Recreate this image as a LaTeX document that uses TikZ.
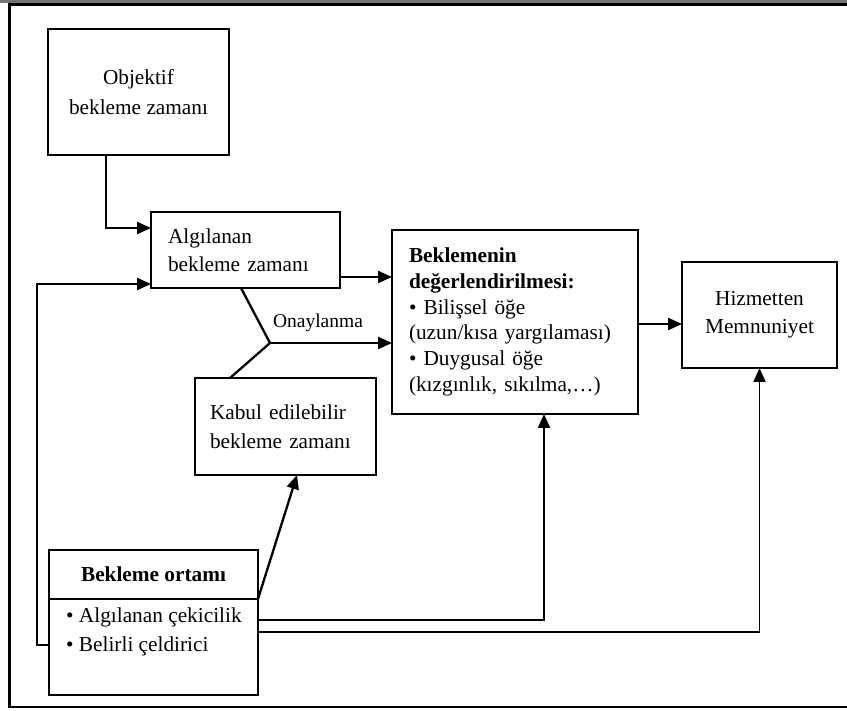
\documentclass[tikz,border=0pt]{standalone}
\usepackage{fontspec}
\setmainfont{Liberation Serif}
\usetikzlibrary{arrows.meta}
\tikzset{
  box/.style={draw=black, line width=2.3pt, rectangle, inner sep=0pt, outer sep=0pt,
    font=\fontsize{21.3pt}{28pt}\selectfont},
  arr/.style={line width=2.3pt, -{Triangle[length=14pt,width=12pt]}},
  thinarr/.style={line width=1.9pt, -{Triangle[length=14pt,width=12pt]}},
  conn/.style={line width=2.3pt},
  lbl/.style={inner sep=0pt, font=\fontsize{19.5pt}{24pt}\selectfont}
}
\begin{document}
\begin{tikzpicture}[x=1pt,y=-1pt]
\useasboundingbox (0,0) rectangle (847,711);
% frame
\fill[black!55] (0,0) rectangle (847,3.5);
\draw[line width=2.3pt] (850,4.5) -- (9.5,4.5) -- (9.5,707) -- (850,707);
% boxes
\node[box, minimum width=181pt, minimum height=126pt, align=center,
  font=\fontsize{21.3pt}{30pt}\selectfont] (obj) at (138.5,92)
  {Objektif\\bekleme zamanı};
\node[box, minimum height=76pt, inner xsep=17pt, text width=155pt, align=left] (alg) at (245.5,250)
  {Algılanan\\bekleme zamanı};
\node[box, minimum height=97pt, inner xsep=15pt, text width=151pt, align=left,
  font=\fontsize{21.3pt}{29pt}\selectfont] (kabul) at (285.5,426.5)
  {Kabul edilebilir\\bekleme zamanı};
\node[box, minimum height=184pt, inner xsep=17pt, text width=212pt, align=left,
  font=\fontsize{21.3pt}{25.8pt}\selectfont] (eval) at (515,322)
  {\textbf{Beklemenin}\\\textbf{değerlendirilmesi:}\\• Bilişsel öğe\\(uzun/kısa yargılaması)\\• Duygusal öğe\\(kızgınlık, sıkılma,…)};
\node[box, minimum width=155pt, minimum height=106pt, align=center] (hiz) at (759.5,315)
  {Hizmetten\\Memnuniyet};
\node[box, minimum width=209pt, minimum height=145pt] (ortam) at (153.5,622.5) {};
\node[inner sep=0pt, font=\fontsize{21.3pt}{28pt}\selectfont\bfseries] (ortamtitle) at (153.5,574.5) {Bekleme ortamı};
\coordinate (divL) at (49,599);
\coordinate (divR) at (258,599);
\draw[line width=2.3pt] (divL) -- (divR);
\node[inner sep=0pt, anchor=north west, align=left, font=\fontsize{21.3pt}{29pt}\selectfont] (items) at (66,608)
  {• Algılanan çekicilik\\• Belirli çeldirici};
% connectors
\draw[arr] ([xshift=-32.5pt]obj.south) |- ([yshift=22pt]alg.west);
\draw[arr] ([yshift=-22.5pt]ortam.west) -- ++(-12,0) |- ([yshift=-34pt]alg.west);
\draw[arr] ([yshift=-27pt]alg.east) -- ([yshift=-27pt]alg.east -| eval.west);
\coordinate (junc) at (270,343);
\draw[conn] ([xshift=-4.5pt]alg.south) -- (junc) -- ([xshift=-55.5pt]kabul.north);
\draw[arr] (junc) -- (junc -| eval.west);
\node[lbl] (onay) at (318,323) {Onaylanma};
\draw[arr] (divR) -- ([xshift=11.5pt]kabul.south);
\draw[thinarr] ([yshift=2.5pt]ortam.east) -| ([xshift=29pt]eval.south);
\draw[thinarr] ([yshift=-9.5pt]ortam.east) -| (hiz.south);
\draw[arr] ([yshift=-2pt]eval.east) -- ([yshift=-2pt]eval.east -| hiz.west);
\end{tikzpicture}
\end{document}
